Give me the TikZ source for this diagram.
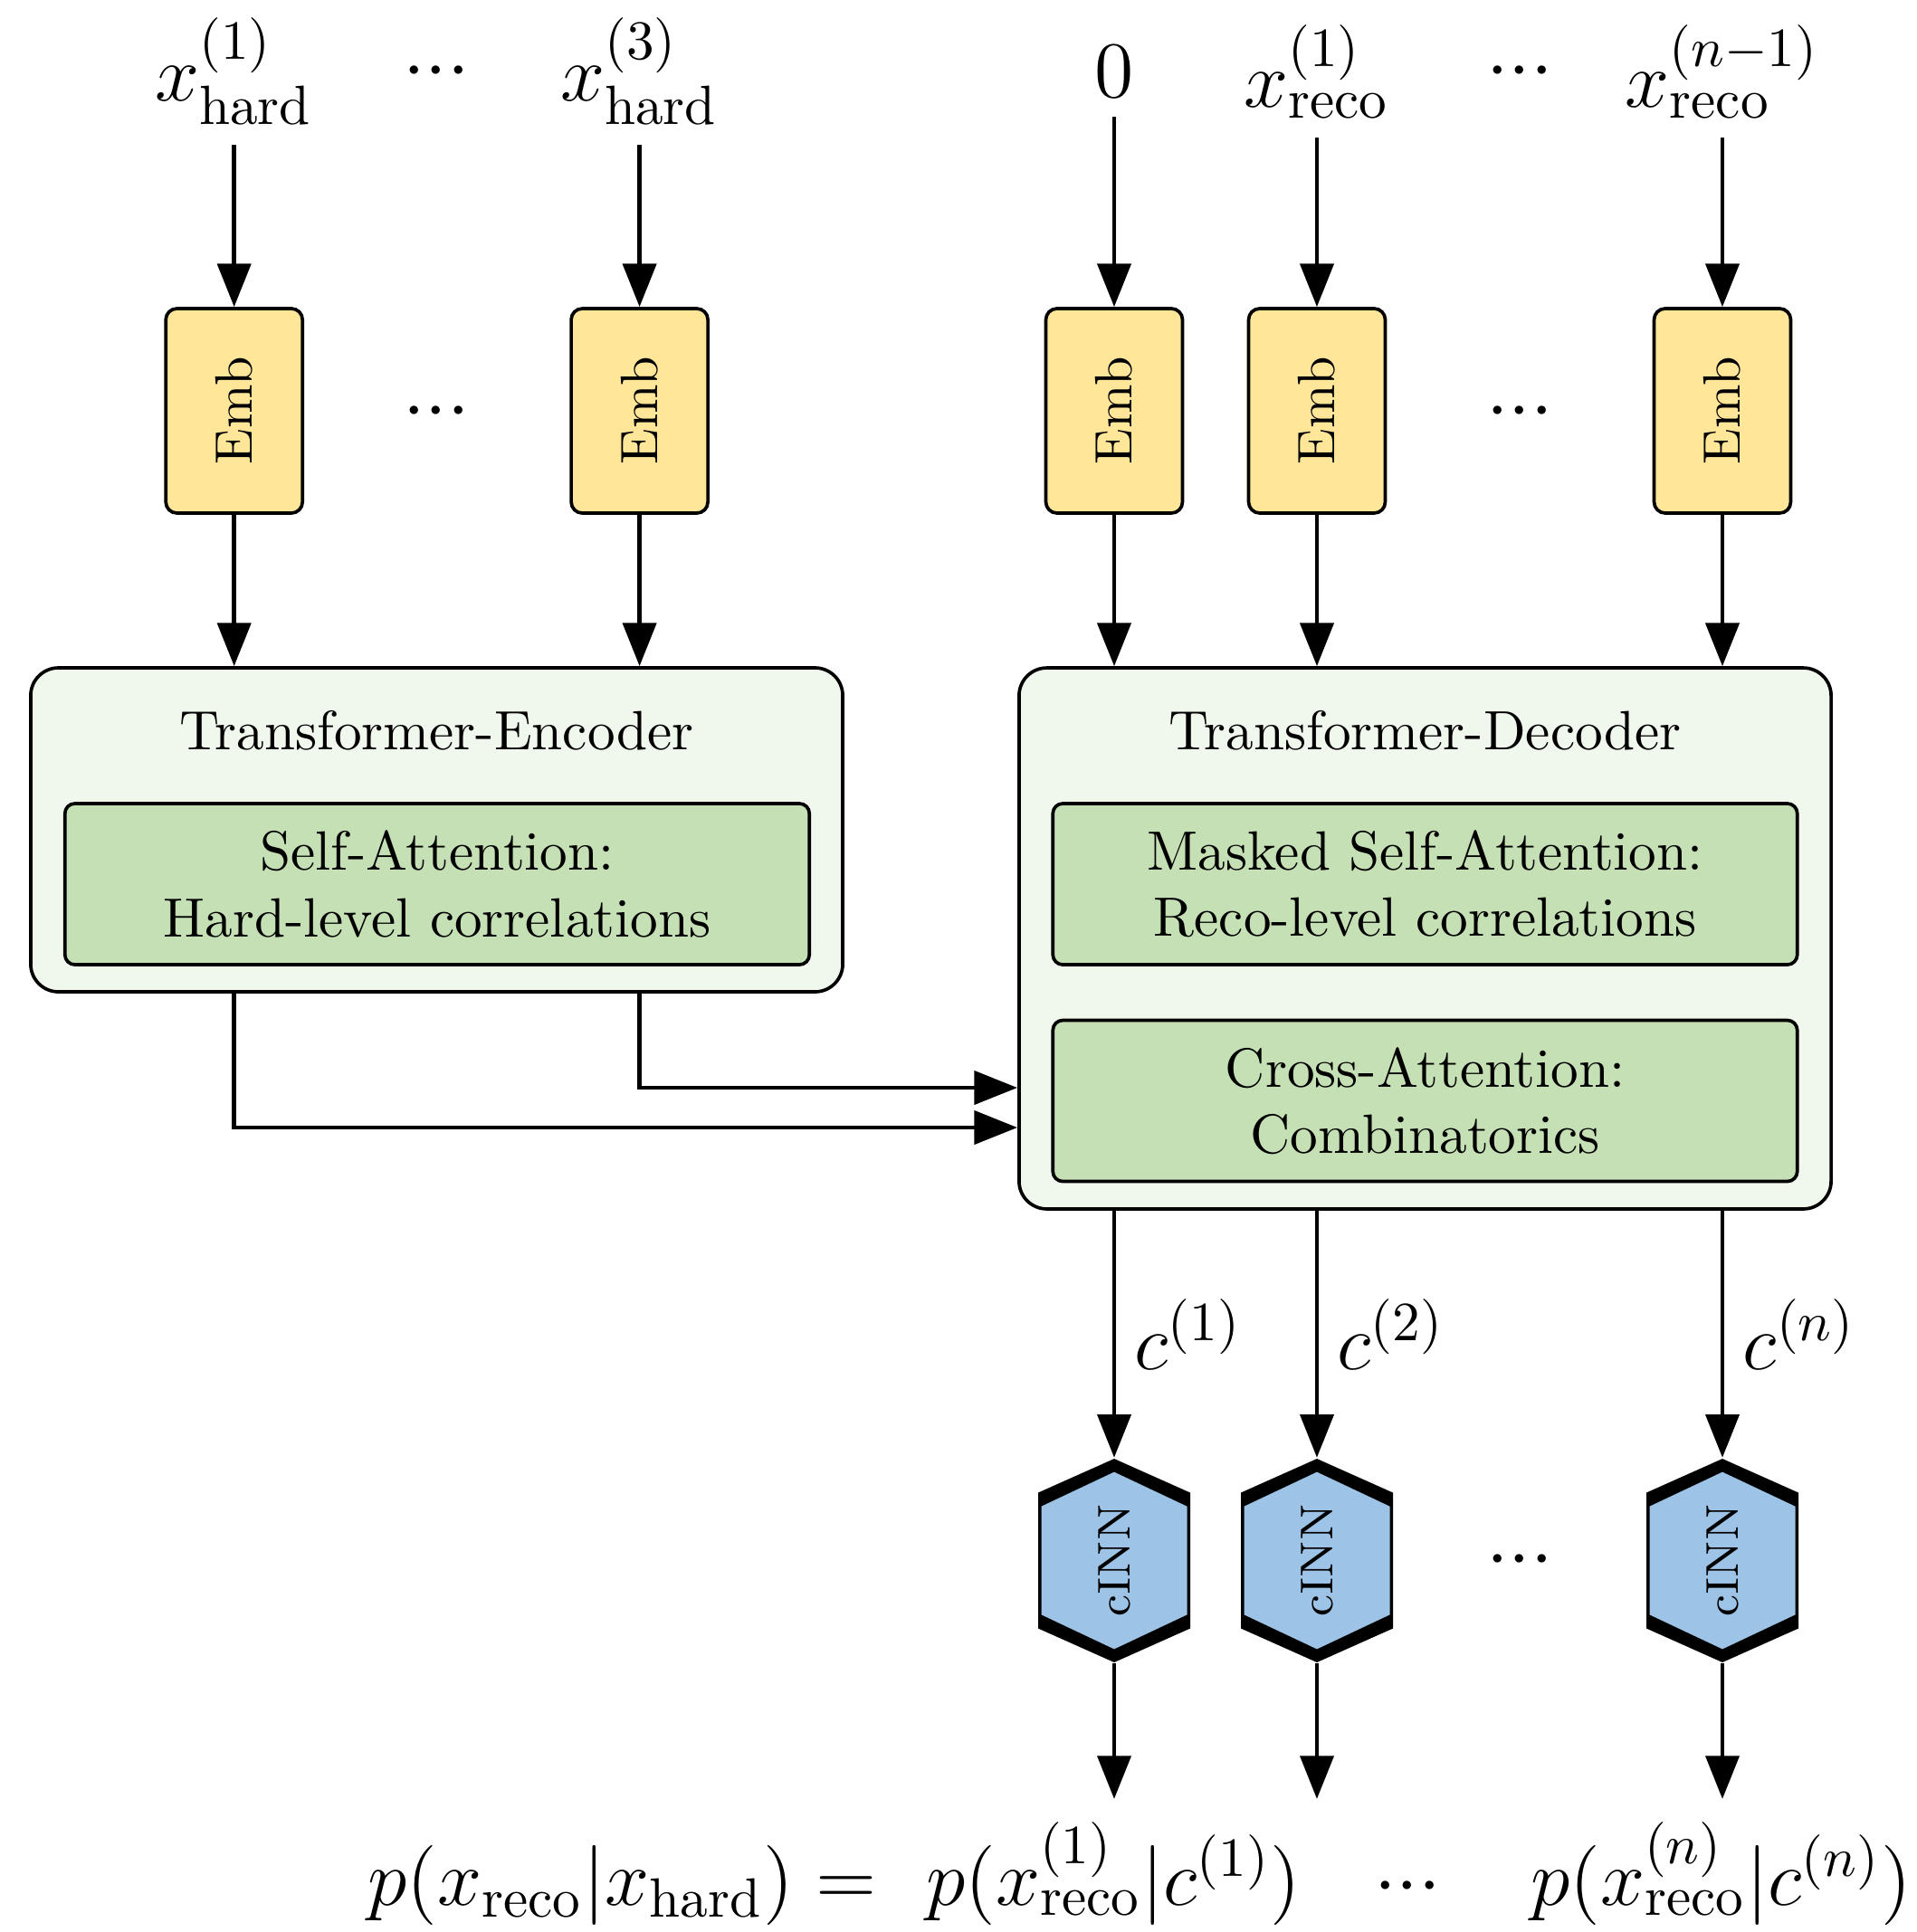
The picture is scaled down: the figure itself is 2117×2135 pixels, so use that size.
\documentclass[tikz,border=0pt]{standalone}
\usepackage{amsmath}
\usetikzlibrary{arrows.meta}
\definecolor{embY}{HTML}{FFE699}
\definecolor{outerG}{HTML}{F0F7EC}
\definecolor{innerG}{HTML}{C5E0B4}
\definecolor{hexB}{HTML}{9DC3E6}
\newcommand{\hexshape}[2]{%
  \begin{scope}[shift={(#1,#2)}]
    \fill[hexB] (0,-105)--(82,-67)--(82,67)--(0,105)--(-82,67)--(-82,-67)--cycle;
    \fill[black,even odd rule] (0,-112.5)--(84,-75)--(84,75)--(0,112.5)--(-84,75)--(-84,-75)--cycle
      (0,-98)--(80.5,-60)--(80.5,60)--(0,98)--(-80.5,60)--(-80.5,-60)--cycle;
  \end{scope}}
\newcommand{\mydots}{\Large${\cdot}{\cdot}{\cdot}$}
\begin{document}
\begin{tikzpicture}[x=0.1634pt,y=-0.1634pt,
  conn/.style={line width=0.8pt,-{Triangle[length=7.8pt,width=6pt]}},
  embbox/.style={draw,line width=0.6pt,fill=embY,rounded corners=2pt,minimum width=24.67pt,minimum height=36.93pt,inner sep=0pt,font=\fontsize{9.5}{11}\selectfont},
  outerbox/.style={draw,line width=0.6pt,fill=outerG,rounded corners=5pt,minimum width=146.6pt,inner sep=0pt},
  innerbox/.style={draw,line width=0.6pt,fill=innerG,rounded corners=1.8pt,minimum width=134.4pt,minimum height=29.1pt,inner sep=0pt,align=center},
  hexlbl/.style={minimum width=27.45pt,minimum height=36.77pt,inner sep=0pt,font=\fontsize{8.3}{10}\selectfont},
  dotsl/.style={anchor=base,inner sep=0pt},
  formula/.style={anchor=base west,inner sep=0pt},
]
\useasboundingbox (0,0) rectangle (2117,2135);

% top labels
\node (t1) at (258.7,79) {\Large$x^{(1)}_{\text{hard}}$};
\node[dotsl] (td1) at (482,99) {\mydots};
\node (t2) at (706.6,79) {\Large$x^{(3)}_{\text{hard}}$};
\node (t3) at (1231,79) {\Large$0$};
\node (t4) at (1455,79) {\Large$x^{(1)}_{\text{reco}}$};
\node[dotsl] (td2) at (1679,99) {\mydots};
\node (t5) at (1903,79) {\Large$x^{(n-1)}_{\text{reco}}$};

% embeddings
\node[embbox] (e1) at (258.7,454) {\rotatebox{90}{Emb}};
\node[dotsl] (ed1) at (482,475) {\mydots};
\node[embbox] (e2) at (706.6,454) {\rotatebox{90}{Emb}};
\node[embbox] (e3) at (1231,454) {\rotatebox{90}{Emb}};
\node[embbox] (e4) at (1455,454) {\rotatebox{90}{Emb}};
\node[dotsl] (ed2) at (1679,475) {\mydots};
\node[embbox] (e5) at (1903,454) {\rotatebox{90}{Emb}};

% encoder
\node[outerbox,minimum height=58.5pt] (enc) at (482.5,917) {};
\node (enct) at (482.5,807) {Transformer-Encoder};
\node[innerbox] (encsa) at (483,977) {Self-Attention:\\Hard-level correlations};

% decoder
\node[outerbox,minimum height=97.7pt] (dec) at (1574.5,1037) {};
\node (dect) at (1574.5,807) {Transformer-Decoder};
\node[innerbox] (decsa) at (1574.5,977) {Masked Self-Attention:\\Reco-level correlations};
\node[innerbox] (decca) at (1574.5,1216.5) {Cross-Attention:\\Combinatorics};

% hexagons
\hexshape{1231}{1724.5}
\hexshape{1455}{1724.5}
\hexshape{1903}{1724.5}
\node[hexlbl] (h1) at (1231,1724.5) {\rotatebox{90}{cINN}};
\node[hexlbl] (h2) at (1455,1724.5) {\rotatebox{90}{cINN}};
\node[dotsl] (hd) at (1679,1744) {\mydots};
\node[hexlbl] (h3) at (1903,1724.5) {\rotatebox{90}{cINN}};

% coordinates
\coordinate (in2) at (0,1202);
\coordinate (in1) at (0,1246);
\coordinate (o1) at (1231,1988);
\coordinate (o2) at (1455,1988);
\coordinate (o3) at (1903,1988);

% arrows top
\foreach \a/\b in {t1/e1,t2/e2,t3/e3,t4/e4,t5/e5}{\draw[conn] (\a) -- (\b);}
\draw[conn] (e1) -- (e1 |- enc.north);
\draw[conn] (e2) -- (e2 |- enc.north);
\draw[conn] (e3) -- (e3 |- dec.north);
\draw[conn] (e4) -- (e4 |- dec.north);
\draw[conn] (e5) -- (e5 |- dec.north);

% encoder to decoder
\draw[conn] (enc.south -| e2) |- (dec.west |- in2);
\draw[conn] (enc.south -| e1) |- (dec.west |- in1);

% decoder to cINN
\draw[conn] (dec.south -| h1) -- node[right] {\Large$c^{(1)}$} (h1);
\draw[conn] (dec.south -| h2) -- node[right] {\Large$c^{(2)}$} (h2);
\draw[conn] (dec.south -| h3) -- node[right] {\Large$c^{(n)}$} (h3);

% outputs
\draw[conn] (h1) -- (o1);
\draw[conn] (h2) -- (o2);
\draw[conn] (h3) -- (o3);

% formula
\node[formula] (f0) at (405,2105) {\Large$p(x_{\text{reco}}|x_{\text{hard}}) =$};
\node[formula] (f1) at (1022,2105) {\Large$p(x^{(1)}_{\text{reco}}|c^{(1)})$};
\node[dotsl] (fd) at (1555,2105) {\mydots};
\node[formula] (fn) at (1690,2105) {\Large$p(x^{(n)}_{\text{reco}}|c^{(n)})$};
\end{tikzpicture}
\end{document}
